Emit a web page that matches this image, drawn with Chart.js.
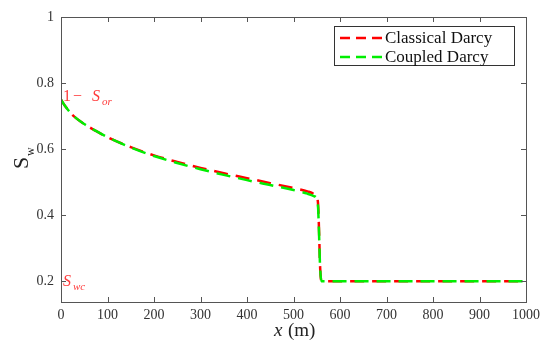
<!DOCTYPE html>
<html>
<head>
<meta charset="utf-8">
<script src="https://cdn.jsdelivr.net/npm/chart.js@4.4.0/dist/chart.umd.min.js"></script>
<style>
  html, body { margin: 0; padding: 0; background: #fff; }
  #chart { display: block; }
</style>
</head>
<body>
<canvas id="chart" width="550" height="345"></canvas>
<script>
// data
const xPos = [0, 10, 25, 50, 75, 100, 150, 200, 250, 300, 350, 400, 450, 500, 530, 545, 550, 553, 555, 557, 560, 1000];
const classical = [0.75, 0.728, 0.703, 0.676, 0.655, 0.636, 0.606, 0.581, 0.561, 0.543, 0.527, 0.512, 0.497, 0.482, 0.472, 0.463, 0.455, 0.43, 0.35, 0.25, 0.2, 0.2];
const coupled   = [0.75, 0.728, 0.703, 0.676, 0.655, 0.636, 0.605, 0.579, 0.558, 0.539, 0.522, 0.506, 0.491, 0.476, 0.465, 0.457, 0.45, 0.42, 0.34, 0.25, 0.2, 0.2];
const seriesNames = ['Classical Darcy', 'Coupled Darcy'];
const seriesColors = ['#ff0000', '#00ee00'];
const xTicks = [0, 100, 200, 300, 400, 500, 600, 700, 800, 900, 1000];
const yTicks = [0.2, 0.4, 0.6, 0.8, 1];

const serif = '"Liberation Serif", "DejaVu Serif", serif';
const axisColor = '#555';

const pts = ys => xPos.map((x, i) => ({ x: x, y: ys[i] }));

// box, inward ticks, labels and the in-plot legend (MATLAB look)
const decor = {
    id: 'decor',
    afterDraw(chart) {
        const ctx = chart.ctx;
        const a = chart.chartArea;
        const xs = chart.scales.x, ys = chart.scales.y;
        ctx.save();
        ctx.strokeStyle = axisColor;
        ctx.lineWidth = 1;
        ctx.strokeRect(a.left + 0.5, a.top + 0.5, a.right - a.left, a.bottom - a.top);
        ctx.beginPath();
        xTicks.forEach(v => {
            const px = Math.round(xs.getPixelForValue(v)) + 0.5;
            ctx.moveTo(px, a.bottom); ctx.lineTo(px, a.bottom - 5);
            ctx.moveTo(px, a.top); ctx.lineTo(px, a.top + 5);
        });
        yTicks.forEach(v => {
            const py = Math.round(ys.getPixelForValue(v)) + 0.5;
            ctx.moveTo(a.left, py); ctx.lineTo(a.left + 5, py);
            ctx.moveTo(a.right, py); ctx.lineTo(a.right - 5, py);
        });
        ctx.stroke();

        // axis titles
        ctx.fillStyle = '#222';
        ctx.textBaseline = 'alphabetic';
        ctx.textAlign = 'left';
        ctx.font = 'italic 19px ' + serif;
        ctx.fillText('x', 274, 336);
        ctx.font = '19px ' + serif;
        ctx.fillText('(m)', 288, 336);

        ctx.save();
        ctx.translate(28, 169);
        ctx.rotate(-Math.PI / 2);
        ctx.font = '22px ' + serif;
        ctx.fillText('S', 0, 0);
        ctx.font = '12px ' + serif;
        ctx.fillText('w', 13, 6);
        ctx.restore();

        // red annotations
        ctx.fillStyle = '#ff3b3b';
        ctx.font = '16px ' + serif;
        ctx.fillText('1', a.left + 2, 101);
        ctx.fillText('\u2212', a.left + 12, 101);
        ctx.font = 'italic 16px ' + serif;
        ctx.fillText('S', a.left + 31, 101);
        ctx.font = 'italic 11px ' + serif;
        ctx.fillText('or', a.left + 41, 105);
        ctx.font = 'italic 16px ' + serif;
        ctx.fillText('S', a.left + 2, 286);
        ctx.font = 'italic 11px ' + serif;
        ctx.fillText('wc', a.left + 12, 290);

        // legend
        ctx.fillStyle = '#fff';
        ctx.fillRect(334, 26, 180, 39);
        ctx.strokeStyle = '#333';
        ctx.strokeRect(334.5, 26.5, 180, 39);
        ctx.font = '17px ' + serif;
        ctx.textBaseline = 'middle';
        seriesNames.forEach((name, i) => {
            const y = 38 + i * 19;
            ctx.strokeStyle = seriesColors[i];
            ctx.lineWidth = 2.5;
            ctx.setLineDash([10, 6]);
            ctx.beginPath();
            ctx.moveTo(340, y); ctx.lineTo(382, y);
            ctx.stroke();
            ctx.setLineDash([]);
            ctx.fillStyle = '#111';
            ctx.fillText(name, 385, y + 1);
        });
        ctx.restore();
    }
};

new Chart(document.getElementById('chart'), {
    type: 'line',
    data: {
        datasets: [
            { label: seriesNames[0], data: pts(classical), borderColor: seriesColors[0], borderWidth: 2.5,
              borderDash: [14, 8], borderDashOffset: 3, pointRadius: 0, cubicInterpolationMode: 'monotone', order: 1 },
            { label: seriesNames[1], data: pts(coupled), borderColor: seriesColors[1], borderWidth: 2.5,
              borderDash: [14, 8], pointRadius: 0, cubicInterpolationMode: 'monotone', order: 0 }
        ]
    },
    options: {
        responsive: false,
        animation: false,
        devicePixelRatio: 1,
        layout: { padding: { left: 0, top: 17, right: 24, bottom: 0 } },
        plugins: { legend: { display: false }, tooltip: { enabled: false } },
        scales: {
            x: {
                type: 'linear', min: 0, max: 1000,
                afterBuildTicks: s => { s.ticks = xTicks.map(v => ({ value: v })); },
                afterFit: s => { s.height = 43; },
                grid: { display: false, drawTicks: false },
                border: { display: false },
                ticks: { color: '#333', font: { family: serif, size: 14 }, padding: 5, maxRotation: 0,
                         autoSkip: false, callback: v => String(v) }
            },
            y: {
                type: 'linear', min: 0.137, max: 1,
                afterBuildTicks: s => { s.ticks = yTicks.map(v => ({ value: v })); },
                afterFit: s => { s.width = 61; },
                grid: { display: false, drawTicks: false },
                border: { display: false },
                ticks: { color: '#333', font: { family: serif, size: 14 }, padding: 7,
                         autoSkip: false, callback: v => String(v) }
            }
        }
    },
    plugins: [decor]
});
</script>
</body>
</html>
